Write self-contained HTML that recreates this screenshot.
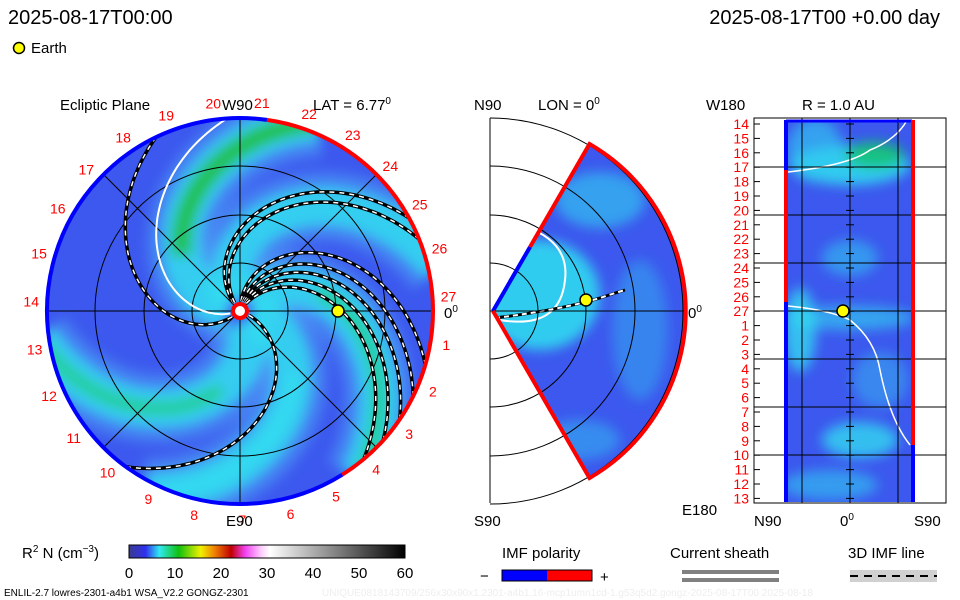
<!DOCTYPE html>
<html><head><meta charset="utf-8"><style>
body{margin:0;background:#fff;}
svg{display:block;font-family:"Liberation Sans",sans-serif;}
</style></head><body>
<svg id="s" width="960" height="600" viewBox="0 0 960 600" xmlns="http://www.w3.org/2000/svg">
<defs>
<filter id="bl" x="-20%" y="-20%" width="140%" height="140%"><feGaussianBlur stdDeviation="6"/></filter>
<clipPath id="cL"><circle cx="240" cy="311" r="193"/></clipPath>
<clipPath id="cM"><path d="M493,311 L589.5,144 A193,193 0 0 1 589.5,478 Z"/></clipPath>
<clipPath id="cR"><rect x="786" y="120" width="128" height="382"/></clipPath>
<linearGradient id="cb" x1="0" x2="1" y1="0" y2="0">
<stop offset="0" stop-color="#3a3a90"/><stop offset="0.06" stop-color="#3030f0"/><stop offset="0.11" stop-color="#30e8f0"/>
<stop offset="0.18" stop-color="#10c010"/><stop offset="0.26" stop-color="#f0f000"/><stop offset="0.31" stop-color="#f08000"/>
<stop offset="0.37" stop-color="#c00000"/><stop offset="0.42" stop-color="#f040f0"/><stop offset="0.48" stop-color="#ffd0ff"/>
<stop offset="0.51" stop-color="#ffffff"/><stop offset="1" stop-color="#000000"/></linearGradient>
</defs>
<text x="8" y="24" font-size="20">2025-08-17T00:00</text>
<text x="940" y="24" font-size="20" text-anchor="end">2025-08-17T00 +0.00 day</text>
<circle cx="19" cy="48" r="5.5" fill="#ff0" stroke="#000" stroke-width="1.5"/>
<text x="31" y="53" font-size="15">Earth</text>

<g id="left">
<circle cx="240" cy="311" r="193" fill="#3c58ee"/>
<g id="bands" clip-path="url(#cL)"><g id="bandsIn" filter="url(#bl)"></g></g>
<g id="grid" fill="none" stroke="#000" stroke-width="1"></g>
<g id="spirals" clip-path="url(#cL)"></g>
<path id="redArc" fill="none" stroke="#f00" stroke-width="4"/>
<path id="blueArc" fill="none" stroke="#00f" stroke-width="4"/>
<g id="dayLabels" font-size="14" fill="#f00"></g>
<circle cx="240" cy="311" r="9" fill="#f00"/><circle cx="240" cy="311" r="5" fill="#fff"/>
<circle cx="338" cy="311" r="6" fill="#ff0" stroke="#000" stroke-width="1.5"/>
<text x="60" y="110" font-size="15">Ecliptic Plane</text>
<text x="222" y="110" font-size="15">W90</text>
<text x="313" y="110" font-size="15">LAT = 6.77<tspan dy="-6" font-size="10">0</tspan></text>
<text x="226" y="526" font-size="15">E90</text>
<text x="444" y="318" font-size="15">0<tspan dy="-6" font-size="10">0</tspan></text>
</g>

<g id="mid">
<path d="M493,311 L589.5,144 A193,193 0 0 1 589.5,478 Z" fill="#3c58ee"/>
<g clip-path="url(#cM)"><g filter="url(#bl)">
<ellipse cx="540" cy="295" rx="60" ry="55" fill="#30e0f0" opacity="0.85"/>
<ellipse cx="600" cy="200" rx="45" ry="28" fill="#30c8f0" opacity="0.65"/>
<ellipse cx="640" cy="330" rx="28" ry="70" fill="#30b0f0" opacity="0.5"/>
<ellipse cx="580" cy="440" rx="40" ry="20" fill="#30c0f0" opacity="0.5"/>
</g>
<path d="M520,225 Q570,240 565,280 Q560,330 500,320" fill="none" stroke="#fff" stroke-width="2"/>
<path d="M495,318 Q560,310 600,298 Q615,293 625,290" fill="none" stroke="#000" stroke-width="3"/>
<path d="M495,318 Q560,310 600,298 Q615,293 625,290" fill="none" stroke="#fff" stroke-width="2" stroke-dasharray="5,4"/>
</g>
<g fill="none" stroke="#000" stroke-width="1">
<line x1="490" y1="118" x2="490" y2="503"/><line x1="490" y1="311" x2="686" y2="311"/>
<path d="M490,263 A48,48 0 0 1 490,359"/><path d="M490,215 A96,96 0 0 1 490,407"/>
<path d="M490,166 A145,145 0 0 1 490,456"/><path d="M490,118 A193,193 0 0 1 490,504"/>
</g>
<path d="M493,311 L530,247" stroke="#00f" stroke-width="4"/>
<path d="M530,247 L589.5,144 A193,193 0 0 1 589.5,478 L493,311" fill="none" stroke="#f00" stroke-width="4"/>
<circle cx="586" cy="300" r="6" fill="#ff0" stroke="#000" stroke-width="1.5"/>
<text x="474" y="110" font-size="15">N90</text>
<text x="538" y="110" font-size="15">LON = 0<tspan dy="-6" font-size="10">0</tspan></text>
<text x="688" y="318" font-size="15">0<tspan dy="-6" font-size="10">0</tspan></text>
<text x="474" y="526" font-size="15">S90</text>
</g>

<g id="right">
<rect x="786" y="120" width="128" height="382" fill="#3c58ee"/>
<g clip-path="url(#cR)"><g filter="url(#bl)">
<ellipse cx="850" cy="165" rx="60" ry="20" fill="#30e0f0" opacity="0.85"/>
<ellipse cx="875" cy="155" rx="30" ry="14" fill="#10c060" opacity="0.75"/>
<ellipse cx="815" cy="150" rx="28" ry="32" fill="#30c8f0" opacity="0.65"/>
<ellipse cx="850" cy="258" rx="28" ry="18" fill="#30b8f0" opacity="0.65"/>
<ellipse cx="850" cy="318" rx="65" ry="12" fill="#30d0f0" opacity="0.65"/>
<ellipse cx="800" cy="330" rx="16" ry="42" fill="#30e0f0" opacity="0.75"/>
<ellipse cx="880" cy="380" rx="28" ry="28" fill="#30c0f0" opacity="0.45"/>
<ellipse cx="860" cy="440" rx="38" ry="18" fill="#30e0f0" opacity="0.75"/>
<ellipse cx="830" cy="485" rx="48" ry="15" fill="#30c0f0" opacity="0.65"/>
</g>
<path d="M788,172 Q850,165 870,150 Q895,140 906,122" fill="none" stroke="#fff" stroke-width="1.5"/>
<path d="M788,306 Q830,310 850,320 Q875,340 880,370 Q890,420 910,445" fill="none" stroke="#fff" stroke-width="1.5"/>
</g>
<g id="rgrid" stroke="#000" stroke-width="1" fill="none"></g>
<rect x="754" y="118" width="192" height="385" fill="none" stroke="#000" stroke-width="1"/>
<line x1="786" y1="120" x2="786" y2="170" stroke="#00f" stroke-width="4"/>
<line x1="786" y1="170" x2="786" y2="302" stroke="#f00" stroke-width="4"/>
<line x1="786" y1="302" x2="786" y2="502" stroke="#00f" stroke-width="4"/>
<line x1="786" y1="121" x2="912" y2="121" stroke="#00f" stroke-width="3"/>
<line x1="913" y1="120" x2="913" y2="445" stroke="#f00" stroke-width="4"/>
<line x1="913" y1="445" x2="913" y2="502" stroke="#00f" stroke-width="4"/>
<g id="rLabels" font-size="14" fill="#f00" text-anchor="end"></g>
<circle cx="843" cy="311" r="6" fill="#ff0" stroke="#000" stroke-width="1.5"/>
<text x="706" y="110" font-size="15">W180</text>
<text x="802" y="110" font-size="15">R = 1.0 AU</text>
<text x="682" y="515" font-size="15">E180</text>
<text x="754" y="526" font-size="15">N90</text>
<text x="840" y="526" font-size="15">0<tspan dy="-6" font-size="10">0</tspan></text>
<text x="914" y="526" font-size="15">S90</text>
</g>

<g>
<text x="22" y="558" font-size="15">R<tspan dy="-6" font-size="10">2</tspan><tspan dy="6"> N (cm</tspan><tspan dy="-6" font-size="10">−3</tspan><tspan dy="6">)</tspan></text>
<rect x="129" y="545" width="276" height="13" fill="url(#cb)" stroke="#000" stroke-width="1"/>
<g id="cbTicks" font-size="15" text-anchor="middle"></g>
</g>
<text x="4" y="596" font-size="10">ENLIL-2.7 lowres-2301-a4b1 WSA_V2.2 GONGZ-2301</text>
<text x="322" y="596" font-size="10" fill="#eee">UNIQUE0818143709/256x30x90x1.2301-a4b1.16-mcp1umn1cd-1.g53q5d2.gongz-2025-08-17T00   2025-08-18</text>

<g>
<text x="502" y="558" font-size="15">IMF polarity</text>
<text x="480" y="581" font-size="15">−</text>
<rect x="502" y="570" width="45" height="11" fill="#00f"/><rect x="547" y="570" width="45" height="11" fill="#f00"/>
<rect x="502" y="570" width="90" height="11" fill="none" stroke="#000"/>
<text x="600" y="582" font-size="15">+</text>
</g>
<g>
<text x="670" y="558" font-size="15">Current sheath</text>
<rect x="682" y="570" width="97" height="4" fill="#808080"/><rect x="682" y="578" width="97" height="4" fill="#808080"/>
</g>
<g>
<text x="848" y="558" font-size="15">3D IMF line</text>
<rect x="850" y="570" width="87" height="12" fill="#d0d0d0"/>
<line x1="850" y1="576" x2="937" y2="576" stroke="#000" stroke-width="2" stroke-dasharray="8,6"/>
</g>
</svg>
<script>
const NS="http://www.w3.org/2000/svg";
const cx=240,cy=311,R=193,RATE=0.55;
const dayLabels=[1,2,3,4,5,6,7,8,9,10,11,12,13,14,15,16,17,18,19,20,21,22,23,24,25,26,27];
const rowLabels=[14,15,16,17,18,19,20,21,22,23,24,25,26,27,1,2,3,4,5,6,7,8,9,10,11,12,13];
const cbTicks=[0,10,20,30,40,50,60];
const imfStartAngles=[90,80,72,64,56,135,128,222,-20];
const bandAngles=[180,58,300,-5,125];
const bandColors=["#20c030","#20d080","#20d080","#30e0f0","#30d0f0"];
function el(t,a,p){const e=document.createElementNS(NS,t);for(const k in a)e.setAttribute(k,a[k]);p.appendChild(e);return e;}
function pt(r,a){const t=a*Math.PI/180;return [cx+r*Math.cos(t),cy-r*Math.sin(t)];}
function spiral(a0,rmax,r0){let d="";for(let r=r0||8;r<=rmax;r+=3){const p=pt(r,a0-RATE*r);d+=(d?"L":"M")+p[0].toFixed(1)+","+p[1].toFixed(1);}return d;}
const bi=document.getElementById("bandsIn");
bandAngles.forEach((a,i)=>{
  el("path",{d:spiral(a,205,10),fill:"none",stroke:"#4c9cf6","stroke-width":70,opacity:0.55},bi);
});
bandAngles.forEach((a,i)=>{
  const w=el("path",{d:spiral(a,205,12),fill:"none",stroke:"#30e0f0","stroke-width":40,opacity:0.8},bi);
  
  
  el("path",{d:spiral(a,205,80),fill:"none",stroke:bandColors[i],"stroke-width":i==0?20:13,opacity:0.85},bi);
});
const g=document.getElementById("grid");
[48,96,145].forEach(r=>el("circle",{cx:cx,cy:cy,r:r},g));
[0,45,90,135].forEach(a=>{const p=pt(R,a),q=pt(R,a+180);el("line",{x1:p[0],y1:p[1],x2:q[0],y2:q[1]},g);});
const sp=document.getElementById("spirals");
el("path",{d:spiral(200,193,10),fill:"none",stroke:"#fff","stroke-width":2},sp);
imfStartAngles.forEach(a=>{
  const d=spiral(a,193,10);
  el("path",{d:d,fill:"none",stroke:"#000","stroke-width":3.5},sp);
  const w=el("path",{d:d,fill:"none",stroke:"#fff","stroke-width":1.5,"stroke-dasharray":"5,5"},sp);
  
  
});
function arc(a1,a2){const p=pt(R,a1),q=pt(R,a2);const large=Math.abs(a1-a2)>180?1:0;return `M${p[0]},${p[1]} A${R},${R} 0 ${large} 1 ${q[0]},${q[1]}`;}
document.getElementById("redArc").setAttribute("d",arc(82,-58));
document.getElementById("blueArc").setAttribute("d",arc(-58,-278));
const dl=document.getElementById("dayLabels");
dayLabels.forEach(d=>{const p=pt(209,4-d*13.333);const t=el("text",{x:p[0],y:p[1]+5,"text-anchor":"middle"},dl);t.textContent=d;
  
  });
const rg=document.getElementById("rgrid");
[167,215,263,311,359,407,455].forEach(y=>el("line",{x1:754,y1:y,x2:946,y2:y},rg));
[802,850,898].forEach(x=>el("line",{x1:x,y1:118,x2:x,y2:503},rg));
for(let i=0;i<27;i++){const y=124+i*14.4;el("line",{x1:846,y1:y,x2:854,y2:y},rg);el("line",{x1:754,y1:y,x2:760,y2:y},rg);}
const rl=document.getElementById("rLabels");
rowLabels.forEach((v,i)=>{const t=el("text",{x:749,y:129+i*14.4},rl);t.textContent=v;
  
  });
const ct=document.getElementById("cbTicks");
cbTicks.forEach(v=>{const x=129+v/60*276;const t=el("text",{x:x,y:578},ct);t.textContent=v;
  
  });
</script>
</body></html>
